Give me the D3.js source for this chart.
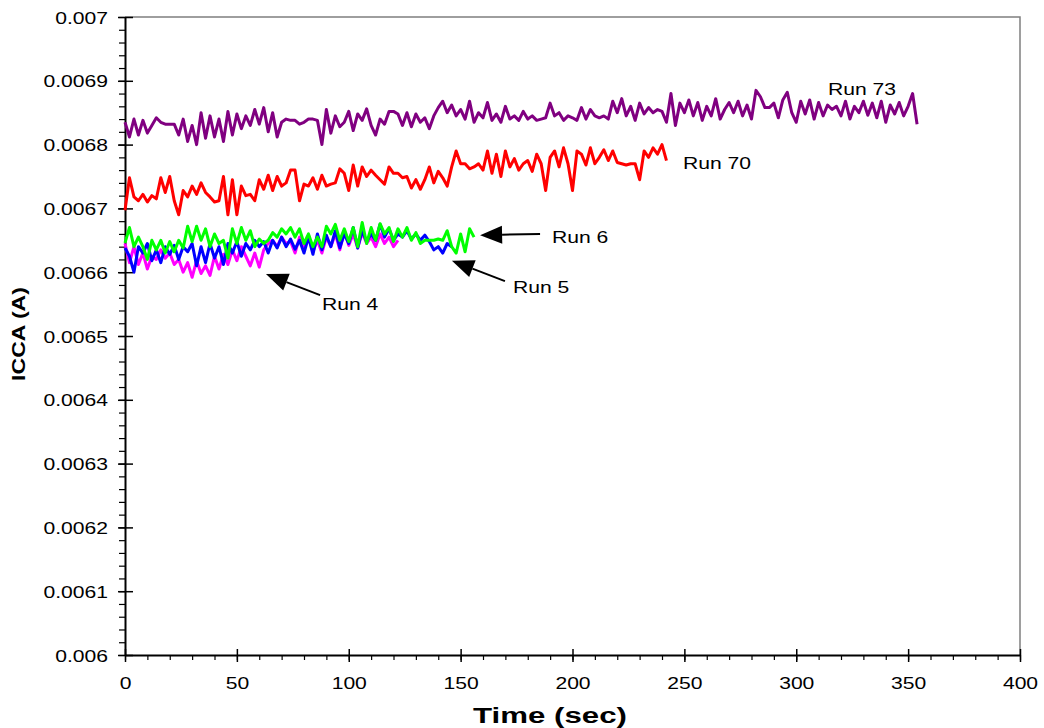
<!DOCTYPE html>
<html>
<head>
<meta charset="utf-8">
<script src="https://cdn.jsdelivr.net/npm/d3@7"></script>
<style>
  html, body { margin: 0; padding: 0; background: #fff; }
  svg { display: block; }
</style>
</head>
<body>
<svg id="chart" width="1044" height="728"></svg>
<script>
// ---- Data: ICCA current (A) sampled every 2 s ----
const sampleStep = 2; // seconds between samples

const run73 = [
  0.006835, 0.006812, 0.006840, 0.006815, 0.006838, 0.006818, 0.006830,
  0.006842, 0.006835, 0.006832, 0.006832, 0.006832,
  0.006815, 0.006840, 0.006805, 0.006830, 0.006800, 0.006850,
  0.006810, 0.006845, 0.006812, 0.006840, 0.006805, 0.006852,
  0.006815, 0.006848, 0.006825, 0.006845, 0.006830, 0.006855, 0.006832, 0.006858,
  0.006820, 0.006850, 0.006812, 0.006835, 0.006840,
  0.006838, 0.006838, 0.006832, 0.006835, 0.006840, 0.006840, 0.006838,
  0.006800, 0.006855, 0.006818, 0.006845, 0.006828,
  0.006835, 0.006852, 0.006822, 0.006848, 0.006838, 0.006856, 0.006830,
  0.006815, 0.006840, 0.006832, 0.006852, 0.006852, 0.006848,
  0.006830, 0.006850, 0.006828, 0.006848, 0.006835, 0.006842,
  0.006825, 0.006845, 0.006858, 0.006868, 0.006850, 0.006862, 0.006845, 0.006855,
  0.006840, 0.006868, 0.006835, 0.006850, 0.006842, 0.006866, 0.006838, 0.006848,
  0.006835, 0.006860, 0.006840, 0.006845, 0.006838, 0.006852, 0.006840,
  0.006845, 0.006838, 0.006840, 0.006842, 0.006865, 0.006845, 0.006850,
  0.006838, 0.006845, 0.006842, 0.006838, 0.006858, 0.006840, 0.006855, 0.006845,
  0.006842, 0.006845, 0.006840, 0.006868, 0.006850, 0.006872, 0.006845, 0.006860,
  0.006838, 0.006865, 0.006848, 0.006858, 0.006850, 0.006855, 0.006852,
  0.006835, 0.006880, 0.006830, 0.006865, 0.006850, 0.006870,
  0.006845, 0.006866, 0.006838, 0.006860, 0.006845, 0.006872, 0.006840,
  0.006855, 0.006866, 0.006850, 0.006868, 0.006845, 0.006862, 0.006840,
  0.006885, 0.006875, 0.006858, 0.006858, 0.006865, 0.006842,
  0.006870, 0.006882, 0.006850, 0.006835, 0.006868, 0.006848, 0.006870,
  0.006840, 0.006866, 0.006845, 0.006862, 0.006855, 0.006860, 0.006845,
  0.006868, 0.006840, 0.006860, 0.006850, 0.006868, 0.006846, 0.006865,
  0.006842, 0.006868, 0.006835, 0.006862, 0.006848, 0.006866,
  0.006845, 0.006860, 0.006880, 0.006832
];

const run70 = [
  0.006697, 0.006748, 0.006718, 0.006712, 0.006722, 0.006710,
  0.006720, 0.006715, 0.006748, 0.006725, 0.006750, 0.006712,
  0.006690, 0.006728, 0.006718, 0.006735, 0.006722, 0.006740,
  0.006725, 0.006718, 0.006710, 0.006712, 0.006750, 0.006690,
  0.006745, 0.006690, 0.006735, 0.006720, 0.006722, 0.006712,
  0.006745, 0.006730, 0.006752, 0.006728, 0.006750, 0.006735,
  0.006740, 0.006760, 0.006760, 0.006712, 0.006738, 0.006735,
  0.006748, 0.006730, 0.006752, 0.006735, 0.006738, 0.006740,
  0.006762, 0.006755, 0.006728, 0.006768, 0.006735, 0.006765,
  0.006750, 0.006760, 0.006752, 0.006745, 0.006738, 0.006765,
  0.006755, 0.006755, 0.006748, 0.006750, 0.006732, 0.006745,
  0.006730, 0.006745, 0.006765, 0.006740, 0.006758, 0.006748,
  0.006735, 0.006765, 0.006790, 0.006770, 0.006770, 0.006762,
  0.006765, 0.006770, 0.006760, 0.006790, 0.006755, 0.006785,
  0.006750, 0.006790, 0.006765, 0.006778, 0.006760, 0.006770,
  0.006775, 0.006758, 0.006785, 0.006770, 0.006728, 0.006780,
  0.006790, 0.006765, 0.006795, 0.006770, 0.006728, 0.006790,
  0.006785, 0.006768, 0.006795, 0.006770, 0.006780, 0.006792,
  0.006775, 0.006790, 0.006772, 0.006770, 0.006768, 0.006770,
  0.006770, 0.006745, 0.006790, 0.006780, 0.006795,
  0.006785, 0.006800, 0.006775
];

const run6 = [
  0.006646, 0.006670, 0.006640, 0.006655, 0.006640, 0.006620, 0.006650, 0.006635,
  0.006650, 0.006630, 0.006648, 0.006632, 0.006650, 0.006638, 0.006672, 0.006648,
  0.006672, 0.006650, 0.006668, 0.006640, 0.006660, 0.006645, 0.006650, 0.006622,
  0.006668, 0.006645, 0.006670, 0.006650, 0.006665, 0.006640, 0.006652, 0.006645,
  0.006650, 0.006662, 0.006655, 0.006668, 0.006660, 0.006670, 0.006655, 0.006668,
  0.006645, 0.006660, 0.006640, 0.006655, 0.006640, 0.006672, 0.006660, 0.006675,
  0.006650, 0.006668, 0.006648, 0.006670, 0.006640, 0.006678, 0.006645, 0.006670,
  0.006650, 0.006676, 0.006660, 0.006670, 0.006648, 0.006668, 0.006655, 0.006670,
  0.006650, 0.006662, 0.006645, 0.006650, 0.006650, 0.006650, 0.006652, 0.006650,
  0.006665, 0.006640, 0.006630, 0.006660, 0.006632, 0.006668, 0.006655
];

const run5 = [
  0.006638, 0.006625, 0.006600, 0.006640, 0.006630, 0.006645, 0.006618, 0.006635,
  0.006615, 0.006640, 0.006628, 0.006642, 0.006620, 0.006640, 0.006632, 0.006645,
  0.006610, 0.006640, 0.006615, 0.006645, 0.006622, 0.006640, 0.006612, 0.006645,
  0.006630, 0.006648, 0.006625, 0.006645, 0.006635, 0.006650, 0.006640, 0.006648,
  0.006630, 0.006650, 0.006638, 0.006655, 0.006640, 0.006652, 0.006636, 0.006650,
  0.006630, 0.006655, 0.006628, 0.006660, 0.006635, 0.006658, 0.006640, 0.006665,
  0.006638, 0.006660, 0.006645, 0.006670, 0.006638, 0.006665, 0.006648, 0.006660,
  0.006650, 0.006675, 0.006655, 0.006668, 0.006650, 0.006660, 0.006655, 0.006665,
  0.006652, 0.006660, 0.006650, 0.006658, 0.006648, 0.006635, 0.006640, 0.006630,
  0.006645, 0.006640
];

const run4 = [
  0.006645, 0.006615, 0.006640, 0.006612, 0.006630, 0.006605, 0.006625, 0.006620,
  0.006635, 0.006622, 0.006630, 0.006612, 0.006620, 0.006600, 0.006615, 0.006592,
  0.006618, 0.006598, 0.006610, 0.006595, 0.006625, 0.006605, 0.006628, 0.006612,
  0.006635, 0.006618, 0.006640, 0.006625, 0.006610, 0.006630, 0.006608, 0.006635,
  0.006645, 0.006650, 0.006640, 0.006655, 0.006645, 0.006648, 0.006630, 0.006655,
  0.006635, 0.006658, 0.006632, 0.006650, 0.006630, 0.006655, 0.006640, 0.006660,
  0.006635, 0.006665, 0.006642, 0.006660, 0.006638, 0.006662, 0.006645, 0.006655,
  0.006640, 0.006660, 0.006645, 0.006655, 0.006640, 0.006650
];

// Axis ticks and labels
const xTickValues = [0, 50, 100, 150, 200, 250, 300, 350, 400];
const xTickLabels = ["0", "50", "100", "150", "200", "250", "300", "350", "400"];
const yTickValues = [0.006, 0.0061, 0.0062, 0.0063, 0.0064, 0.0065, 0.0066, 0.0067, 0.0068, 0.0069, 0.007];
const yTickLabels = ["0.006", "0.0061", "0.0062", "0.0063", "0.0064", "0.0065", "0.0066", "0.0067", "0.0068", "0.0069", "0.007"];

// Series in drawing order (later ones sit on top)
const seriesNames = ["Run 73", "Run 70", "Run 4", "Run 5", "Run 6"];
const seriesValues = [run73, run70, run4, run5, run6];

// ---- Drawing ----
const FONT = "'Liberation Sans', Arial, Helvetica, sans-serif";
const STRETCH = 1.28; // wide lettering
const colors = { "Run 73": "#800080", "Run 70": "#ff0000", "Run 4": "#ff00ff", "Run 5": "#0000ff", "Run 6": "#00ff00" };

const svg = d3.select("#chart");
const x = d3.scaleLinear().domain([0, 400]).range([125, 1020]);
const y = d3.scaleLinear().domain([0.006, 0.007]).range([655, 17]);

// grey frame on top and right
svg.append("path")
  .attr("d", `M${x(0)},${y(0.007)}H${x(400)}V${y(0.006)}`)
  .attr("fill", "none")
  .attr("stroke", "#7f7f7f")
  .attr("stroke-width", 1.5);

// minor ticks
const yMinor = svg.append("g")
  .attr("transform", `translate(${x(0)},0)`)
  .call(d3.axisLeft(y).tickValues(d3.range(0, 51).map(i => 0.006 + i * 0.00002)).tickSize(6).tickSizeOuter(0).tickFormat(""));
yMinor.select(".domain").remove();
yMinor.selectAll(".tick line").attr("stroke", "#000").attr("stroke-width", 1.2);

const xMinor = svg.append("g")
  .attr("transform", `translate(0,${y(0.006)})`)
  .call(d3.axisBottom(x).tickValues(d3.range(0, 41).map(i => i * 10)).tickSize(5).tickSizeOuter(0).tickFormat(""));
xMinor.select(".domain").remove();
xMinor.selectAll(".tick line").attr("stroke", "#000").attr("stroke-width", 1.2);

// major axes
const yAxis = svg.append("g")
  .attr("transform", `translate(${x(0)},0)`)
  .call(d3.axisLeft(y).tickValues(yTickValues).tickFormat((d, i) => yTickLabels[i]).tickSize(7).tickSizeOuter(0));
yAxis.select(".domain").attr("stroke", "#000").attr("stroke-width", 2);
yAxis.selectAll(".tick line").attr("x1", 8).attr("stroke", "#000").attr("stroke-width", 1.5);
yAxis.selectAll(".tick text")
  .attr("x", null).attr("dy", null)
  .attr("fill", "#000")
  .attr("font-family", FONT).attr("font-size", 16.5)
  .attr("text-anchor", "end")
  .attr("transform", `translate(-17,6) scale(${STRETCH},1)`);

const xAxis = svg.append("g")
  .attr("transform", `translate(0,${y(0.006)})`)
  .call(d3.axisBottom(x).tickValues(xTickValues).tickFormat((d, i) => xTickLabels[i]).tickSize(7).tickSizeOuter(0));
xAxis.select(".domain").attr("stroke", "#000").attr("stroke-width", 2);
xAxis.selectAll(".tick line").attr("y1", -6).attr("stroke", "#000").attr("stroke-width", 1.5);
xAxis.selectAll(".tick text")
  .attr("y", null).attr("dy", null)
  .attr("fill", "#000")
  .attr("font-family", FONT).attr("font-size", 16.5)
  .attr("text-anchor", "middle")
  .attr("transform", `translate(0,34) scale(${STRETCH},1)`);

// series lines
const line = d3.line()
  .x((d, i) => x(i * sampleStep))
  .y(d => y(d));

svg.append("g").selectAll("path")
  .data(seriesNames)
  .join("path")
  .attr("d", (name, k) => line(seriesValues[k]))
  .attr("fill", "none")
  .attr("stroke", name => colors[name])
  .attr("stroke-width", 3)
  .attr("stroke-linejoin", "round");

// run labels and arrows, placed in data units
const annotations = [
  { text: "Run 73", at: [314.2, 0.006878] },
  { text: "Run 70", at: [249.4, 0.006762] },
  { text: "Run 6", at: [190.8, 0.006646], tip: [158.7, 0.006658], tail: [185.5, 0.006660] },
  { text: "Run 5", at: [173.4, 0.006567], tip: [146.1, 0.006618], tail: [169.8, 0.006586] },
  { text: "Run 4", at: [88.0, 0.006541], tip: [63.0, 0.006597], tail: [87.2, 0.006564] }
];

const ann = svg.append("g");
annotations.forEach(a => {
  if (a.tip) {
    const tx = x(a.tip[0]), ty = y(a.tip[1]);
    const sx = x(a.tail[0]), sy = y(a.tail[1]);
    const ang = Math.atan2(sy - ty, sx - tx);
    const len = 22, half = 9;
    const bx = tx + len * Math.cos(ang), by = ty + len * Math.sin(ang);
    ann.append("line")
      .attr("x1", bx).attr("y1", by).attr("x2", sx).attr("y2", sy)
      .attr("stroke", "#000").attr("stroke-width", 2);
    ann.append("path")
      .attr("d", `M${tx},${ty}L${bx - half * Math.sin(ang)},${by + half * Math.cos(ang)}L${bx + half * Math.sin(ang)},${by - half * Math.cos(ang)}Z`)
      .attr("fill", "#000");
  }
  ann.append("text")
    .attr("transform", `translate(${x(a.at[0])},${y(a.at[1])}) scale(${STRETCH},1)`)
    .attr("font-family", FONT).attr("font-size", 16.5)
    .attr("fill", "#000")
    .text(a.text);
});

// axis titles
svg.append("text")
  .attr("transform", `translate(550,723) scale(1.42,1)`)
  .attr("text-anchor", "middle")
  .attr("font-family", FONT).attr("font-size", 22).attr("font-weight", "bold")
  .attr("fill", "#000")
  .text("Time (sec)");

svg.append("text")
  .attr("transform", `translate(25,334) rotate(-90) scale(${STRETCH},1)`)
  .attr("text-anchor", "middle")
  .attr("font-family", FONT).attr("font-size", 18).attr("font-weight", "bold")
  .attr("fill", "#000")
  .text("ICCA (A)");
</script>
</body>
</html>
